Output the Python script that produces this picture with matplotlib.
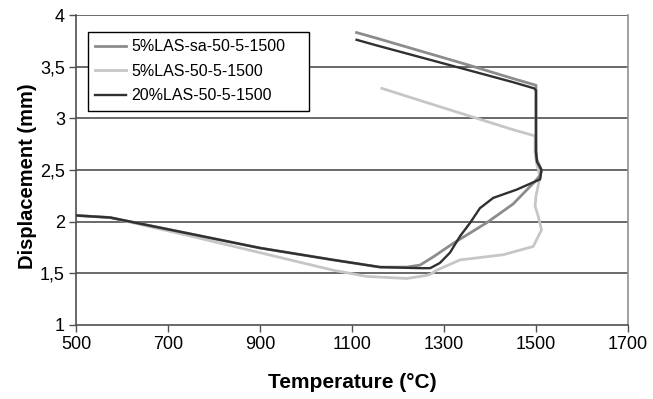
import matplotlib
matplotlib.use("Agg")
import matplotlib.pyplot as plt

plt.rcParams['font.family'] = ['Liberation Sans', 'DejaVu Sans']

# 5%LAS-sa-50-5-1500 (medium grey)
t_sa = [500, 574, 740, 900, 1059, 1161, 1219, 1248, 1277, 1320, 1393, 1450,
        1498, 1509, 1512, 1502, 1500, 1500, 1450, 1350, 1250, 1150, 1110]
d_sa = [2.06, 2.04, 1.89, 1.745, 1.63, 1.56, 1.56, 1.58, 1.66, 1.79, 1.99, 2.17,
        2.39, 2.45, 2.50, 2.60, 2.68, 3.32, 3.385, 3.52, 3.65, 3.78, 3.83]

# 5%LAS-50-5-1500 (light grey)
t_5 = [500, 574, 740, 900, 1059, 1132, 1219, 1262, 1270, 1284, 1335,
       1429, 1494, 1512, 1505, 1498, 1500, 1509, 1502, 1498, 1498, 1450, 1350,
       1250, 1165]
d_5 = [2.06, 2.04, 1.87, 1.70, 1.53, 1.47, 1.45, 1.48, 1.49, 1.53, 1.63,
       1.68, 1.76, 1.92, 2.05, 2.15, 2.25, 2.44, 2.55, 2.67, 2.83, 2.89, 3.03,
       3.17, 3.29]

# 20%LAS-50-5-1500 (dark)
t_20 = [500, 574, 740, 900, 1059, 1161, 1248, 1270, 1291, 1313, 1335,
        1357, 1378, 1407, 1458, 1509, 1512, 1502, 1500, 1500, 1496, 1450, 1350,
        1250, 1150, 1110]
d_20 = [2.06, 2.04, 1.89, 1.745, 1.63, 1.56, 1.55, 1.55, 1.60, 1.70, 1.86,
        1.99, 2.13, 2.23, 2.31, 2.41, 2.50, 2.58, 2.68, 3.27, 3.29, 3.35, 3.47,
        3.59, 3.71, 3.76]

series_names = ['5%LAS-sa-50-5-1500', '5%LAS-50-5-1500', '20%LAS-50-5-1500']
xticks = [500, 700, 900, 1100, 1300, 1500, 1700]
yticks = [1, 1.5, 2, 2.5, 3, 3.5, 4]
ytick_labels = ['1', '1,5', '2', '2,5', '3', '3,5', '4']

fig = plt.figure(figsize=(6.53, 3.99), dpi=100)
ax = fig.add_axes([0.1164, 0.1855, 0.8453, 0.7769])

for y in yticks[1:]:
    ax.axhline(y, color='#505050', lw=1.2, zorder=1)

ax.plot(t_sa, d_sa, color='#8c8c8c', lw=2.0, label=series_names[0], zorder=3)
ax.plot(t_5, d_5, color='#c6c6c6', lw=2.0, label=series_names[1], zorder=2)
ax.plot(t_20, d_20, color='#303030', lw=1.7, label=series_names[2], zorder=4)

ax.set_xlim(500, 1700)
ax.set_ylim(1, 4)
ax.set_xticks(xticks)
ax.set_yticks(yticks)
ax.set_yticklabels(ytick_labels)
ax.tick_params(direction='out', length=5, width=1, colors='#505050',
               labelcolor='black', labelsize=13, pad=3)

for s in ['left', 'bottom']:
    ax.spines[s].set_color('#505050')
    ax.spines[s].set_linewidth(1.2)
ax.spines['top'].set_visible(False)
ax.spines['right'].set_color('#909090')
ax.spines['right'].set_linewidth(1.2)

ax.set_xlabel('Temperature (°C)', fontsize=15, fontweight='bold', va='center')
ax.xaxis.set_label_coords(0.5, -0.184)
ax.set_ylabel('Displacement (mm)', fontsize=14.5, fontweight='bold', va='center')
ax.yaxis.set_label_coords(-0.087, 0.48)

# legend box stretched to the width used in the original
leg = ax.legend(loc='upper left', bbox_to_anchor=(0.0217, 0.70, 0.4004, 0.245),
                mode='expand', borderaxespad=0, fontsize=11.5, frameon=True,
                fancybox=False, handlelength=1.9, borderpad=0.45,
                labelspacing=0.6, handletextpad=0.35)
leg.get_frame().set_edgecolor('black')
leg.get_frame().set_linewidth(1.0)
leg.get_frame().set_alpha(1)

fig.savefig('out.png', dpi=100)
